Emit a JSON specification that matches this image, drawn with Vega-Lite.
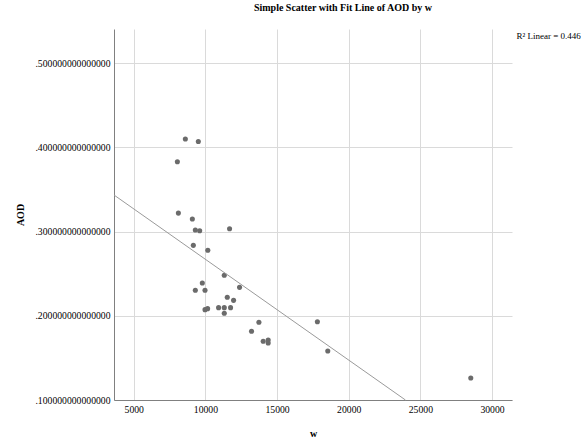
{
  "$schema": "https://vega.github.io/schema/vega-lite/v6.json",
  "width": 398,
  "height": 371,
  "autosize": {"type": "none"},
  "padding": {"left": 114, "top": 29, "right": 69, "bottom": 38},
  "background": "white",
  "config": {"view": {"stroke": null}, "font": "Liberation Serif"},
  "title": {
    "text": "Simple Scatter with Fit Line of AOD by w",
    "font": "Liberation Serif",
    "fontSize": 10,
    "fontWeight": "bold",
    "color": "black",
    "anchor": "middle",
    "dx": 30,
    "baseline": "alphabetic",
    "offset": 8
  },
  "datasets": {
    "points": [
      {"w": 8600, "AOD": 0.410},
      {"w": 9505, "AOD": 0.407},
      {"w": 8043, "AOD": 0.383},
      {"w": 8113, "AOD": 0.322},
      {"w": 9088, "AOD": 0.315},
      {"w": 9296, "AOD": 0.302},
      {"w": 9600, "AOD": 0.301},
      {"w": 11685, "AOD": 0.3034},
      {"w": 9157, "AOD": 0.2837},
      {"w": 10167, "AOD": 0.2778},
      {"w": 11316, "AOD": 0.2481},
      {"w": 9784, "AOD": 0.2390},
      {"w": 9296, "AOD": 0.2303},
      {"w": 9972, "AOD": 0.2303},
      {"w": 12382, "AOD": 0.2338},
      {"w": 11525, "AOD": 0.2220},
      {"w": 11964, "AOD": 0.2184},
      {"w": 10919, "AOD": 0.2097},
      {"w": 11316, "AOD": 0.2097},
      {"w": 11755, "AOD": 0.2097},
      {"w": 11316, "AOD": 0.2030},
      {"w": 9972, "AOD": 0.2073},
      {"w": 10153, "AOD": 0.2085},
      {"w": 13733, "AOD": 0.1923},
      {"w": 13217, "AOD": 0.1816},
      {"w": 14032, "AOD": 0.1697},
      {"w": 14380, "AOD": 0.1713},
      {"w": 14380, "AOD": 0.1677},
      {"w": 17813, "AOD": 0.1930},
      {"w": 18538, "AOD": 0.1582},
      {"w": 28517, "AOD": 0.1261}
    ],
    "fit": [
      {"w": 3621, "AOD": 0.3435},
      {"w": 23959, "AOD": 0.1}
    ]
  },
  "resolve": {"axis": {"x": "independent"}},
  "layer": [
    {
      "data": {"name": "points"},
      "mark": {"type": "circle", "size": 26, "color": "#6b6b6b", "opacity": 1},
      "encoding": {
        "x": {
          "field": "w",
          "type": "quantitative",
          "scale": {"domain": [3621, 31393], "nice": false, "zero": false},
          "axis": {
            "title": "w",
            "values": [5000, 10000, 15000, 20000, 25000, 30000],
            "format": "d",
            "ticks": false,
            "labelPadding": 4,
            "labelFont": "Liberation Serif",
            "labelFontSize": 9.7,
            "labelColor": "black",
            "titleFont": "Liberation Serif",
            "titleFontSize": 10,
            "titleFontWeight": "bold",
            "titleColor": "black",
            "titleBaseline": "alphabetic",
            "titleY": 36,
            "domainColor": "#808080",
            "gridColor": "#dadada"
          }
        },
        "y": {
          "field": "AOD",
          "type": "quantitative",
          "scale": {"domain": [0.1, 0.5407], "nice": false, "zero": false},
          "axis": {
            "title": "AOD",
            "values": [0.1, 0.2, 0.3, 0.4, 0.5],
            "labelExpr": "replace(format(datum.value, '.15f'), /^0/, '')",
            "ticks": false,
            "labelPadding": 4,
            "labelFont": "Liberation Serif",
            "labelFontSize": 9.7,
            "labelColor": "black",
            "titleFont": "Liberation Serif",
            "titleFontSize": 10,
            "titleFontWeight": "bold",
            "titleColor": "black",
            "titleBaseline": "middle",
            "titleX": -94,
            "domainColor": "#808080",
            "gridColor": "#dadada"
          }
        }
      }
    },
    {
      "data": {"name": "fit"},
      "mark": {"type": "line", "color": "#9a9a9a", "strokeWidth": 1},
      "encoding": {
        "x": {
          "field": "w",
          "type": "quantitative",
          "axis": {
            "orient": "top",
            "labels": false,
            "ticks": false,
            "domain": false,
            "grid": false,
            "title": "R² Linear = 0.446",
            "titleFont": "Liberation Serif",
            "titleFontSize": 9,
            "titleFontWeight": "normal",
            "titleColor": "black",
            "titleAlign": "left",
            "titleAnchor": "start",
            "titleBaseline": "middle",
            "titleX": 402,
            "titleY": 6
          }
        },
        "y": {"field": "AOD", "type": "quantitative"}
      }
    }
  ]
}
